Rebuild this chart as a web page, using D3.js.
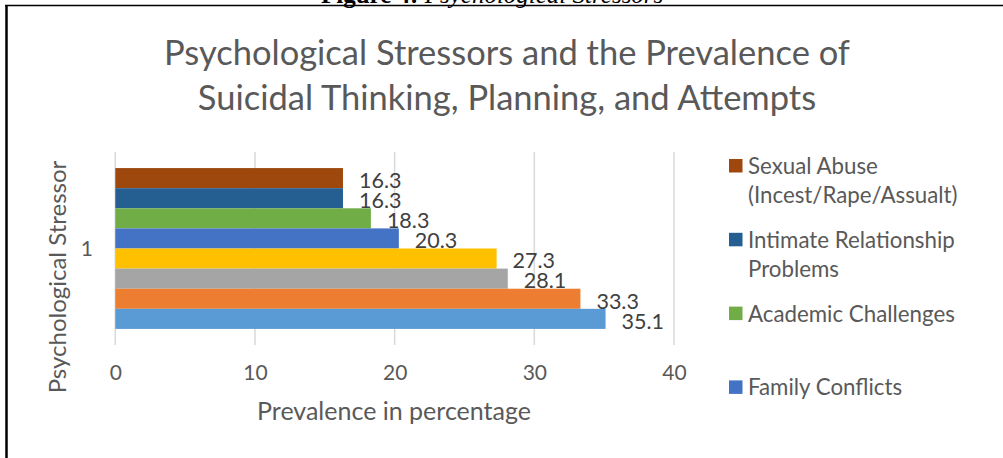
<!DOCTYPE html>
<html>
<head>
<meta charset="utf-8">
<script src="https://cdn.jsdelivr.net/npm/d3@7"></script>
<style>
  body { margin: 0; background: #fff; }
  svg { display: block; }
</style>
</head>
<body>
<div id="chart"></div>
<script>
var width = 1003,
    height = 458;

// chart data
var categories = ['1'];
var seriesValues = [16.3, 16.3, 18.3, 20.3, 27.3, 28.1, 33.3, 35.1];
var seriesColors = ['#9e480e', '#255e91', '#70ad47', '#4472c4', '#ffc000', '#a5a5a5', '#ed7d31', '#5b9bd5'];
var xTicks = [0, 10, 20, 30, 40];
// only the first four legend entries are visible in the picture
var legendLines = [
  ['Sexual Abuse', '(Incest/Rape/Assualt)'],
  ['Intimate Relationship', 'Problems'],
  ['Academic Challenges'],
  ['Family Conflicts']
];
var titleLines = ['Psychological Stressors and the Prevalence of', 'Suicidal Thinking, Planning, and Attempts'];

var font = 'Lato, "Open Sans", sans-serif';
var grey = '#595959';

var svg = d3.select('#chart').append('svg')
  .attr('width', width)
  .attr('height', height);

// caption of the figure, cut off at the top
var cap = svg.append('text')
  .attr('x', 321)
  .attr('y', 3)
  .style('font-family', '"Liberation Serif", "Times New Roman", serif')
  .style('font-size', '25px')
  .attr('fill', '#000');
cap.append('tspan').style('font-weight', 'bold').text('Figure 4:');
cap.append('tspan').style('font-style', 'italic').text(' Psychological Stressors');

// frame
svg.append('line').attr('x1', 5).attr('x2', width).attr('y1', 5.5).attr('y2', 5.5)
  .attr('stroke', '#000').attr('stroke-width', 1.5);
svg.append('line').attr('x1', 6.5).attr('x2', 6.5).attr('y1', 5).attr('y2', height)
  .attr('stroke', '#000').attr('stroke-width', 2.5);

// title
svg.selectAll('.title')
  .data(titleLines)
  .enter().append('text')
  .attr('class', 'title')
  .attr('x', 507)
  .attr('y', (d, i) => 65 + i * 45)
  .attr('text-anchor', 'middle')
  .style('font-family', font)
  .style('font-size', '34.5px')
  .attr('fill', grey)
  .text(d => d);

// scales
var plotTop = 152, plotBottom = 345;
var x = d3.scaleLinear().domain([0, 40]).range([115.3, 674]);
var yCat = d3.scaleBand().domain(categories).range([plotTop, plotBottom]);
var y = d3.scaleBand()
  .domain(d3.range(seriesValues.length))
  .range([plotTop, plotBottom])
  .paddingInner(0)
  .paddingOuter(0.8);

// gridlines
svg.append('g')
  .selectAll('line')
  .data(xTicks)
  .enter().append('line')
  .attr('x1', d => x(d)).attr('x2', d => x(d))
  .attr('y1', plotTop).attr('y2', plotBottom)
  .attr('stroke', '#d9d9d9')
  .attr('stroke-width', 1.5);

// x axis
var xAxis = svg.append('g')
  .attr('transform', 'translate(0,' + 365 + ')')
  .call(d3.axisBottom(x).tickValues(xTicks).tickSize(0).tickPadding(0).tickFormat(d3.format('d')));
xAxis.select('.domain').remove();
xAxis.selectAll('text')
  .style('font-family', font)
  .style('font-size', '21px')
  .attr('fill', grey);

// category label
svg.append('g')
  .attr('transform', 'translate(' + 93 + ',0)')
  .call(d3.axisLeft(yCat).tickSize(0).tickPadding(0))
  .call(g => g.select('.domain').remove())
  .selectAll('text')
  .attr('dy', '0.38em')
  .style('font-family', font)
  .style('font-size', '21px')
  .attr('fill', grey);

// bars
svg.selectAll('.bar')
  .data(seriesValues)
  .enter().append('rect')
  .attr('class', 'bar')
  .attr('x', x(0))
  .attr('y', (d, i) => y(i))
  .attr('width', d => x(d) - x(0))
  .attr('height', y.bandwidth())
  .attr('fill', (d, i) => seriesColors[i]);

// data labels
svg.selectAll('.value-label')
  .data(seriesValues)
  .enter().append('text')
  .attr('class', 'value-label')
  .attr('x', d => x(d) + 16)
  .attr('y', (d, i) => y(i) + y.bandwidth() / 2 + 2)
  .attr('dy', '0.36em')
  .style('font-family', font)
  .style('font-size', '21.5px')
  .attr('fill', '#404040')
  .text(d => d3.format('.1f')(d));

// axis titles
svg.append('text')
  .attr('x', 394)
  .attr('y', 420)
  .attr('text-anchor', 'middle')
  .style('font-family', font)
  .style('font-size', '25px')
  .attr('fill', grey)
  .text('Prevalence in percentage');

svg.append('text')
  .attr('transform', 'translate(' + 66 + ',' + 277 + ') rotate(-90)')
  .attr('text-anchor', 'middle')
  .style('font-family', font)
  .style('font-size', '24px')
  .attr('fill', grey)
  .text('Psychological Stressor');

// legend
var legend = svg.selectAll('.legend')
  .data(legendLines)
  .enter().append('g')
  .attr('class', 'legend')
  .attr('transform', (d, i) => 'translate(729,' + (159 + i * 73.8) + ')');

legend.append('rect')
  .attr('width', 13.5)
  .attr('height', 13.5)
  .attr('fill', (d, i) => seriesColors[i]);

legend.each(function (lines) {
  var g = d3.select(this);
  g.selectAll('text')
    .data(lines)
    .enter().append('text')
    .attr('x', 19)
    .attr('y', (d, i) => 7 + i * 29)
    .attr('dy', '0.36em')
    .style('font-family', font)
    .style('font-size', '22.3px')
    .attr('fill', grey)
    .text(d => d);
});
</script>
</body>
</html>
